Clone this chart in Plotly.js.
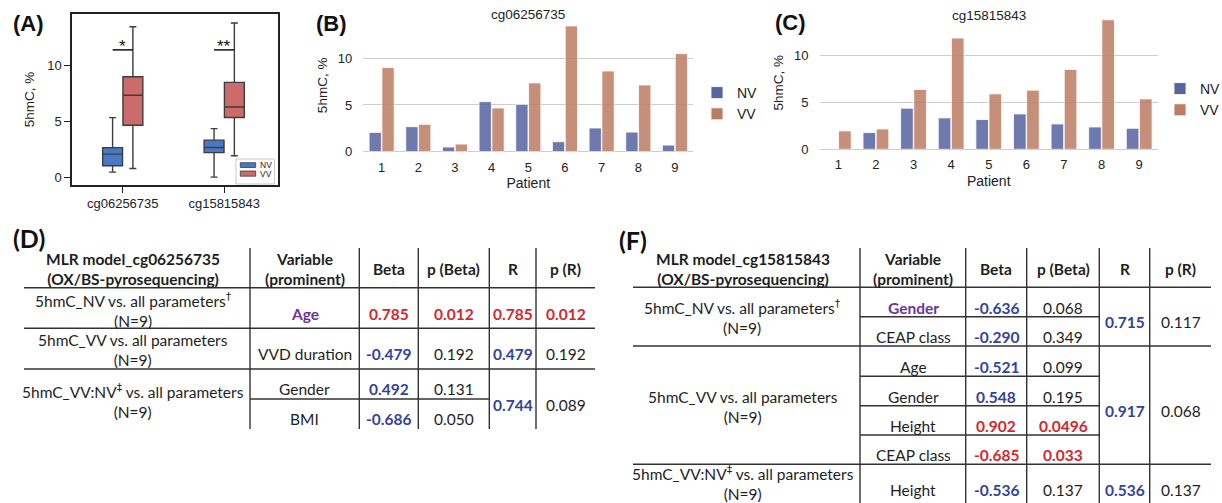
<!DOCTYPE html>
<html><head><meta charset="utf-8">
<script src="https://cdn.plot.ly/plotly-3.0.1.min.js"></script>
<style>html,body{margin:0;padding:0;background:#fff;}#chart{width:1222px;height:503px;}</style>
</head><body><div id="chart"></div>
<script>
// ---------------- DATA ----------------
const patients = [1, 2, 3, 4, 5, 6, 7, 8, 9];
const probes = ['cg06256735', 'cg15815843'];
const groups = ['NV', 'VV'];
const cg06_NV = [2.07, 2.68, 0.50, 5.36, 5.07, 1.07, 2.54, 2.10, 0.71];
const cg06_VV = [9.00, 2.93, 0.82, 4.68, 7.36, 13.46, 8.64, 7.14, 10.50];
const cg15_NV = [0.05, 1.78, 4.38, 3.35, 3.17, 3.77, 2.70, 2.38, 2.24];
const cg15_VV = [1.96, 2.17, 6.37, 11.85, 5.91, 6.30, 8.50, 13.80, 5.37];
const sigMarks = ['*', '**'];
const sigLevel = 11.4;

const DAG = '<sup><span style="font-family:\'DejaVu Sans\';color:#1e1e1e">†</span></sup>';
const DDAG = '<sup><span style="font-family:\'DejaVu Sans\';color:#1e1e1e">‡</span></sup>';
const tableHeaders = ['Variable<br>(prominent)', 'Beta', 'p (Beta)', 'R', 'p (R)'];
const D_title = 'MLR model_cg06256735<br>(OX/BS-pyrosequencing)';
const D_models = ['5hmC_NV vs. all parameters' + DAG + '<br>(N=9)', '5hmC_VV vs. all parameters<br>(N=9)', '5hmC_VV:NV' + DDAG + ' vs. all parameters<br>(N=9)'];
const D_variables = ['Age', 'VVD duration', 'Gender', 'BMI'];
const D_beta = ['0.785', '-0.479', '0.492', '-0.686'];
const D_pBeta = ['0.012', '0.192', '0.131', '0.050'];
const D_R = ['0.785', '0.479', '0.744'];
const D_pR = ['0.012', '0.192', '0.089'];
const D_prominent = ['Age'];

const F_title = 'MLR model_cg15815843<br>(OX/BS-pyrosequencing)';
const F_models = ['5hmC_NV vs. all parameters' + DAG + '<br>(N=9)', '5hmC_VV vs. all parameters<br>(N=9)', '5hmC_VV:NV' + DDAG + ' vs. all parameters<br>(N=9)'];
const F_variables = ['Gender', 'CEAP class', 'Age', 'Gender', 'Height', 'CEAP class', 'Height'];
const F_beta = ['-0.636', '-0.290', '-0.521', '0.548', '0.902', '-0.685', '-0.536'];
const F_pBeta = ['0.068', '0.349', '0.099', '0.195', '0.0496', '0.033', '0.137'];
const F_R = ['0.715', '0.917', '0.536'];
const F_pR = ['0.117', '0.068', '0.137'];
const F_prominent = ['Gender'];

// ---------------- GEOMETRY / STYLE ----------------
const W = 1222, H = 503;
const px = v => v / W;
const py = v => 1 - v / H;
const ARIAL = 'Liberation Sans, Arial, sans-serif';
const CAL = 'Lato, Carlito, Calibri, sans-serif';
const RED = '#d5262c', BLUE = '#33439b', PURPLE = '#6a3596', TXT = '#1e1e1e';
const boxColors = {NV: '#4a78c8', VV: '#cd6a6a'};
const barColors = {NV: '#55639f', VV: '#bb7c63'};

const geoD = {
  colX: [133, 304.7, 388.8, 453.8, 512.7, 565.5],
  vLines: [250, 359.3, 418.3, 489.3, 536], vTop: 248, vBottom: 429,
  left: 24, right: 595, headerY: 269,
  fullLines: [287.7, 328.3, 369], partLines: [399], partRight: 489.3,
  modelY: [309.7, 349.5, 400.5],
  rowY: [314.3, 354.3, 389.3, 419],
  rY: [314.3, 354.3, 405]
};
const geoF = {
  colX: [742.7, 913, 996, 1063, 1124.5, 1180.5],
  vLines: [860, 965.7, 1026.7, 1099.3, 1149.7], vTop: 248, vBottom: 503,
  left: 633, right: 1211, headerY: 269,
  fullLines: [287.3, 346, 464.3], partLines: [316.7, 376.3, 405.7, 435], partRight: 1099.3,
  modelY: [317.2, 407.2, 482.6],
  rowY: [307.7, 337.3, 367, 396.7, 426, 455, 490],
  rY: [322.3, 411, 490]
};
const legA = {box: [236, 159, 274.5, 184], patchX: [240.3, 255.7], patchY: [[162.7, 167.5], [171, 176.2]], textX: 258, fontSize: 8.5};

// ---------------- BOX STATS (linear quartiles) ----------------
function quant(sorted, q) {
  const pos = (sorted.length - 1) * q, lo = Math.floor(pos), hi = Math.ceil(pos);
  return sorted[lo] + (sorted[hi] - sorted[lo]) * (pos - lo);
}
function stats(arr) {
  const s = arr.slice().sort((a, b) => a - b);
  return {min: s[0], q1: quant(s, 0.25), med: quant(s, 0.5), q3: quant(s, 0.75), max: s[s.length - 1]};
}
const boxData = {NV: [cg06_NV, cg15_NV].map(stats), VV: [cg06_VV, cg15_VV].map(stats)};

const traces = [];
groups.forEach(g => {
  const st = boxData[g];
  traces.push({
    type: 'box', name: g, x: probes, xaxis: 'x', yaxis: 'y', showlegend: false,
    q1: st.map(s => s.q1), median: st.map(s => s.med), q3: st.map(s => s.q3),
    lowerfence: st.map(s => s.min), upperfence: st.map(s => s.max),
    boxpoints: false, fillcolor: boxColors[g], line: {color: '#3d3d3d', width: 1.4},
    whiskerwidth: 0.35, hoverinfo: 'skip'
  });
});
const barSets = [
  {NV: cg06_NV, VV: cg06_VV, xa: 'x2', ya: 'y2', lg: 'legend2'},
  {NV: cg15_NV, VV: cg15_VV, xa: 'x3', ya: 'y3', lg: 'legend3'}
];
barSets.forEach(b => {
  groups.forEach(g => {
    traces.push({
      type: 'bar', name: g, x: patients, y: b[g], xaxis: b.xa, yaxis: b.ya, legend: b.lg,
      marker: {color: barColors[g], opacity: 0.85, line: {color: 'rgba(255,255,255,0.85)', width: 1}},
      hoverinfo: 'skip'
    });
  });
});

// ---------------- ANNOTATIONS & SHAPES ----------------
const ann = [], shapes = [];
function txt(x, y, text, opts) {
  ann.push(Object.assign({xref: 'paper', yref: 'paper', x: px(x), y: py(y), text: text, showarrow: false,
    xanchor: 'center', yanchor: 'middle', font: {family: CAL, size: 15.5, color: TXT}}, opts || {}));
}
function line(x0, y0, x1, y1) {
  shapes.push({type: 'line', xref: 'paper', yref: 'paper', x0: px(x0), y0: py(y0), x1: px(x1), y1: py(y1),
    line: {color: '#333', width: 1.4}});
}
function rect(x0, y0, x1, y1, fill, lc, lw) {
  shapes.push({type: 'rect', xref: 'paper', yref: 'paper', x0: px(x0), y0: py(y0), x1: px(x1), y1: py(y1),
    fillcolor: fill, line: {color: lc, width: lw}});
}
txt(28, 23.5, '<b>(A)</b>', {font: {family: ARIAL, size: 22, color: '#111'}});
txt(331.5, 24, '<b>(B)</b>', {font: {family: ARIAL, size: 22, color: '#111'}});
txt(790.5, 22, '<b>(C)</b>', {font: {family: ARIAL, size: 22, color: '#111'}});
txt(28.5, 238, '<b>(D)</b>', {font: {family: CAL, size: 25, color: '#111'}});
txt(632.5, 240, '<b>(F)</b>', {font: {family: CAL, size: 25, color: '#111'}});
txt((363.3 + 693.3) / 2, 14, probes[0], {font: {family: ARIAL, size: 13.5, color: '#222'}});
txt((819.5 + 1158) / 2, 15, probes[1], {font: {family: ARIAL, size: 13.5, color: '#222'}});
probes.forEach((p, i) => {
  shapes.push({type: 'line', xref: 'x', yref: 'y', x0: i - 0.1, x1: i + 0.1, y0: sigLevel, y1: sigLevel,
    line: {color: '#111', width: 1.5}});
  ann.push({xref: 'x', yref: 'y', x: i, y: sigLevel, text: sigMarks[i], showarrow: false, yanchor: 'bottom',
    yshift: -8, font: {family: ARIAL, size: 17, color: '#111'}});
});
rect(legA.box[0], legA.box[1], legA.box[2], legA.box[3], '#fff', '#c8c8c8', 1);
groups.forEach((g, i) => {
  rect(legA.patchX[0], legA.patchY[i][0], legA.patchX[1], legA.patchY[i][1], boxColors[g], '#3d3d3d', 0.8);
  txt(legA.textX, (legA.patchY[i][0] + legA.patchY[i][1]) / 2, g,
    {xanchor: 'left', font: {family: ARIAL, size: legA.fontSize, color: '#222'}});
});

const isSig = p => parseFloat(p) < 0.05;
function drawTable(geo, title, models, variables, beta, pBeta, R, pR, prominent) {
  txt(geo.colX[0], geo.headerY, '<b>' + title + '</b>');
  tableHeaders.forEach((h, i) => txt(geo.colX[i + 1], geo.headerY, '<b>' + h + '</b>'));
  models.forEach((m, i) => txt(geo.colX[0], geo.modelY[i], m));
  variables.forEach((v, i) => {
    const prom = i === 0 && prominent.indexOf(v) >= 0;
    txt(geo.colX[1], geo.rowY[i], prom ? '<b>' + v + '</b>' : v, prom ? {font: {family: CAL, size: 15.5, color: PURPLE}} : {});
    txt(geo.colX[2], geo.rowY[i], '<b>' + beta[i] + '</b>', {font: {family: CAL, size: 15.5, color: isSig(pBeta[i]) ? RED : BLUE}});
    txt(geo.colX[3], geo.rowY[i], isSig(pBeta[i]) ? '<b>' + pBeta[i] + '</b>' : pBeta[i],
      isSig(pBeta[i]) ? {font: {family: CAL, size: 15.5, color: RED}} : {});
  });
  R.forEach((r, i) => {
    txt(geo.colX[4], geo.rY[i], '<b>' + r + '</b>', {font: {family: CAL, size: 15.5, color: isSig(pR[i]) ? RED : BLUE}});
    txt(geo.colX[5], geo.rY[i], isSig(pR[i]) ? '<b>' + pR[i] + '</b>' : pR[i],
      isSig(pR[i]) ? {font: {family: CAL, size: 15.5, color: RED}} : {});
  });
  geo.fullLines.forEach(y => line(geo.left, y, geo.right, y));
  geo.partLines.forEach(y => line(geo.vLines[0], y, geo.partRight, y));
  geo.vLines.forEach(x => line(x, geo.vTop, x, geo.vBottom));
}
drawTable(geoD, D_title, D_models, D_variables, D_beta, D_pBeta, D_R, D_pR, D_prominent);
drawTable(geoF, F_title, F_models, F_variables, F_beta, F_pBeta, F_R, F_pR, F_prominent);

// ---------------- LAYOUT ----------------
const tickF = {family: ARIAL, size: 13, color: '#222'};
const titleF = {family: ARIAL, size: 13.5, color: '#222'};
const layout = {
  width: W, height: H, margin: {l: 0, r: 0, t: 0, b: 0, autoexpand: false},
  paper_bgcolor: '#fff', plot_bgcolor: 'rgba(0,0,0,0)', showlegend: true,
  boxmode: 'group', boxgap: 0.6, boxgroupgap: 0.02,
  barmode: 'group', bargap: 0.3, bargroupgap: 0.04,
  xaxis: {domain: [px(72), px(278)], anchor: 'y', type: 'category', range: [-0.5, 1.53],
    showline: true, mirror: true, linecolor: '#222', linewidth: 1.5, ticks: 'outside', ticklen: 6,
    tickcolor: '#222', tickwidth: 1.2, showgrid: false, zeroline: false, tickfont: tickF},
  yaxis: {domain: [py(185), py(14)], anchor: 'x', range: [-0.65, 14.6], tickvals: [0, 5, 10],
    showline: true, mirror: true, linecolor: '#222', linewidth: 1.5, ticks: 'outside', ticklen: 6,
    tickcolor: '#222', tickwidth: 1.2, showgrid: false, zeroline: false, tickfont: tickF,
    automargin: true, title: {text: '5hmC, %', font: titleF, standoff: 9}},
  xaxis2: {domain: [px(363.3), px(693.3)], anchor: 'y2', range: [0.5, 9.5], tickvals: patients,
    showline: false, showgrid: false, zeroline: false, ticks: '', tickfont: tickF, ticklabelstandoff: 6,
    title: {text: 'Patient', font: {family: ARIAL, size: 14, color: '#222'}, standoff: 4}},
  yaxis2: {domain: [py(151.7), py(19)], anchor: 'x2', range: [0, 14.2], tickvals: [0, 5, 10],
    showline: false, showgrid: true, gridcolor: '#cdcdcd', gridwidth: 1.2, zeroline: true, zerolinecolor: '#cdcdcd',
    zerolinewidth: 1.2, ticks: '', tickfont: tickF, ticklabelstandoff: 10,
    automargin: true, title: {text: '5hmC, %', font: titleF, standoff: 7}},
  xaxis3: {domain: [px(819.5), px(1158)], anchor: 'y3', range: [0.5, 9.5], tickvals: patients,
    showline: false, showgrid: false, zeroline: false, ticks: '', tickfont: tickF, ticklabelstandoff: 6,
    title: {text: 'Patient', font: {family: ARIAL, size: 14, color: '#222'}, standoff: 4}},
  yaxis3: {domain: [py(149.3), py(16)], anchor: 'x3', range: [0, 14.2], tickvals: [0, 5, 10],
    showline: false, showgrid: true, gridcolor: '#cdcdcd', gridwidth: 1.2, zeroline: true, zerolinecolor: '#cdcdcd',
    zerolinewidth: 1.2, ticks: '', tickfont: tickF, ticklabelstandoff: 10,
    automargin: true, title: {text: '5hmC, %', font: titleF, standoff: 7}},
  legend2: {x: px(697), y: py(103.5), xanchor: 'left', yanchor: 'middle', bgcolor: 'rgba(0,0,0,0)',
    font: {family: ARIAL, size: 14, color: '#222'}, itemwidth: 30},
  legend3: {x: px(1160), y: py(99.5), xanchor: 'left', yanchor: 'middle', bgcolor: 'rgba(0,0,0,0)',
    font: {family: ARIAL, size: 14, color: '#222'}, itemwidth: 30},
  annotations: ann, shapes: shapes
};
Plotly.newPlot('chart', traces, layout, {displayModeBar: false, responsive: false});
</script></body></html>
